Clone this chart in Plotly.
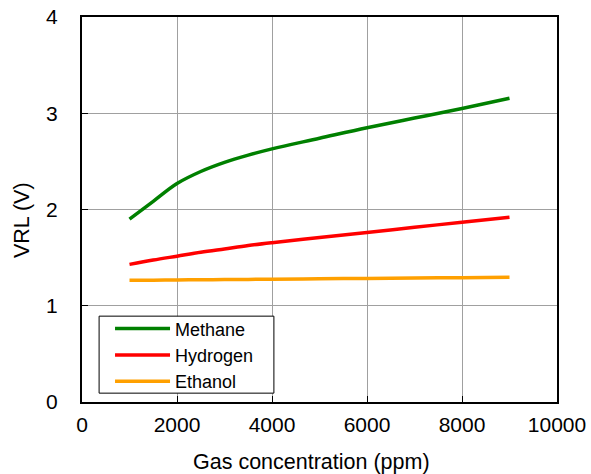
import plotly.graph_objects as go

# Gas concentration (ppm) and load-resistor voltage VRL (V) for each gas
conc = [1000, 1500, 2000, 2500, 3000, 3500, 4000, 5000, 6000, 7000, 8000, 9000]
methane = [1.90, 2.085, 2.27, 2.395, 2.49, 2.565, 2.63, 2.74, 2.85, 2.95, 3.05, 3.155]
hydrogen = [1.43, 1.475, 1.515, 1.555, 1.59, 1.625, 1.655, 1.71, 1.762, 1.815, 1.868, 1.92]
ethanol = [1.264, 1.266, 1.268, 1.270, 1.272, 1.274, 1.276, 1.280, 1.284, 1.288, 1.292, 1.296]

x_ticks = [0, 2000, 4000, 6000, 8000, 10000]
y_ticks = [0, 1, 2, 3, 4]

FONT = "Liberation Sans, Arial, sans-serif"

fig = go.Figure()
for name, vals, color in [
    ("Methane", methane, "#008000"),
    ("Hydrogen", hydrogen, "#FF0000"),
    ("Ethanol", ethanol, "#FFA000"),
]:
    fig.add_trace(go.Scatter(
        x=conc, y=vals, name=name, mode="lines",
        line=dict(color=color, width=3.5, shape="spline", smoothing=1.0),
    ))

axis_common = dict(
    showline=True, linecolor="black", linewidth=2, mirror=True,
    showgrid=True, gridcolor="#A0A0A0", gridwidth=1,
    ticks="inside", ticklen=6, tickcolor="black", tickwidth=1,
    zeroline=False, automargin=False,
    tickfont=dict(family=FONT, size=21, color="black"),
)

fig.update_layout(
    width=591, height=474,
    margin=dict(l=82, r=34, t=17, b=72),
    paper_bgcolor="white", plot_bgcolor="white",
    font=dict(family=FONT, color="black"),
    showlegend=True,
    xaxis=dict(
        range=[0, 10000], tickvals=x_ticks, ticktext=[str(v) for v in x_ticks],
        ticklabelstandoff=3,
        **axis_common,
    ),
    yaxis=dict(
        range=[0, 4], tickvals=y_ticks, ticktext=[str(v) for v in y_ticks],
        ticklabelstandoff=18,
        **axis_common,
    ),
    legend=dict(
        x=0.059, y=0.238, xanchor="left", yanchor="top",
        bgcolor="rgba(0,0,0,0)", borderwidth=0,
        font=dict(family=FONT, size=18, color="black"),
        itemwidth=55, tracegroupgap=0,
    ),
    # framed box behind the legend entries
    shapes=[dict(
        type="rect", xref="paper", yref="paper",
        x0=0.036, x1=0.404, y0=0.023, y1=0.223,
        fillcolor="white", line=dict(color="black", width=1), layer="above",
    )],
    annotations=[
        dict(text="Gas concentration (ppm)", xref="paper", yref="paper",
             x=0.484, y=-0.156, xanchor="center", yanchor="middle",
             showarrow=False, font=dict(family=FONT, size=21.5, color="black")),
        dict(text="VRL (V)", xref="paper", yref="paper",
             x=-0.126, y=0.473, xanchor="center", yanchor="middle", textangle=-90,
             showarrow=False, font=dict(family=FONT, size=21.5, color="black")),
    ],
)

fig.write_html("out.html")
